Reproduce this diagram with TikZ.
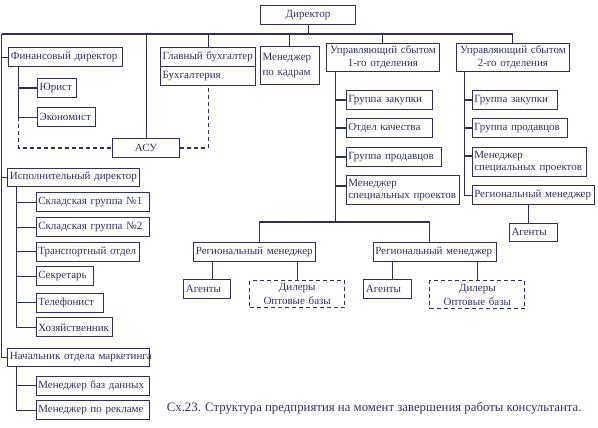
\documentclass[tikz,border=0pt]{standalone}
\usepackage{fontspec}
\setmainfont{Liberation Serif}
\usetikzlibrary{calc}
\usetikzlibrary{positioning}
\definecolor{ink}{RGB}{48,48,96}

\begin{document}
\begin{tikzpicture}
[x=1pt,y=-1pt,
every node/.style={font=\fontsize{11}{13}\selectfont,text=ink},
link/.style = {draw=ink,line width=1.1pt},
dlink/.style = {link,dash pattern=on 4pt off 3pt},
b/.style = {rectangle,draw=ink,line width=1.1pt,anchor=north west,
        inner xsep=2pt,inner ysep=0pt,minimum height=19pt,
        text width=#1,align=left},
bc/.style = {b=#1,align=center},
db/.style = {bc=#1,dash pattern=on 4pt off 3pt,font=\fontsize{11}{14}\selectfont}]
\useasboundingbox (0,0) rectangle (598,428);

\node[bc=91pt] (dir) at (260,5) {Директор};

% left column
\node[b=109.7pt] (fin) at (8.3,47.3) {Финансовый директор};
   \node[b=35pt] (jur) at (37,78) {Юрист};
   \node[b=54pt] (econ) at (37,107.3) {Экономист};
\node[bc=63pt] (asu) at (112,138) {АСУ};
\node[b=128pt,minimum height=18pt] (exec) at (7.3,167.7) {Исполнительный директор};
   \node[b=109.6pt] (skl1) at (35.7,192.3) {Складская группа №1};
   \node[b=109.6pt] (skl2) at (35.7,217.3) {Складская группа №2};
   \node[b=99.6pt] (trans) at (35.7,241.7) {Транспортный отдел};
   \node[b=53pt] (secr) at (35.7,266) {Секретарь};
   \node[b=63pt] (tel) at (35.7,292.7) {Телефонист};
   \node[b=72pt] (hoz) at (35.7,317.3) {Хозяйственник};
\node[b=138pt,minimum height=18pt] (mark) at (7.3,348) {Начальник~отдела~маркетинга};
   \node[b=109.6pt] (mbd) at (35.7,375.7) {Менеджер баз данных};
   \node[b=109.6pt] (mrek) at (35.7,400) {Менеджер по рекламе};

% top row
\node[b=91pt] (gb) at (160,47) {Главный бухгалтер};
\node[b=91pt] (buh) at (160,66) {Бухгалтерия};
\node[b=54.7pt,minimum height=38pt,font=\fontsize{11}{15}\selectfont] (kad) at (260,46) {Менеджер\\по кадрам};
\node[bc=109.3pt,minimum height=28pt] (upr1) at (325.7,43) {Управляющий сбытом\\1-го отделения};
\node[bc=109.3pt,minimum height=28pt] (upr2) at (455.7,43) {Управляющий сбытом\\2-го отделения};

% first department
\node[b=82pt] (gz1) at (345.7,90) {Группа закупки};
\node[b=82pt] (ok1) at (345.7,118) {Отдел качества};
\node[b=91pt] (gp1) at (345.7,147) {Группа продавцов};
\node[b=109.3pt,minimum height=29pt,font=\fontsize{11}{12}\selectfont] (msp1) at (345.7,175) {Менеджер\\специальных проектов};
\node[b=117.7pt] (reg1a) at (193.3,242) {Региональный менеджер};
   \node[b=43pt] (agA) at (183.3,279) {Агенты};
   \node[db=90.7pt,minimum height=27.3pt] (dlA) at (249.3,280) {Дилеры\\Оптовые базы};
\node[b=119.3pt] (reg1b) at (372.7,241.7) {Региональный менеджер};
   \node[b=43.4pt] (agB) at (363.3,279.3) {Агенты};
   \node[db=91pt,minimum height=28pt] (dlB) at (429.3,280) {Дилеры\\Оптовые базы};

% second department
\node[b=81pt] (gz2) at (471.7,90) {Группа закупки};
\node[b=91pt] (gp2) at (471.7,118) {Группа продавцов};
\node[b=110pt,minimum height=29pt,font=\fontsize{11}{12}\selectfont] (msp2) at (471.7,146.7) {Менеджер\\специальных проектов};
\node[b=118.3pt] (reg2) at (471.7,185) {Региональный менеджер};
   \node[b=43.7pt,minimum height=18pt] (ag2) at (509,222.7) {Агенты};

\node[anchor=west,font=\fontsize{12.8}{15}\selectfont] (cap) at (163.3,408)
   {Сх.23. Структура предприятия на момент завершения работы консультанта.};

% connectors
\coordinate (busL) at (1.5,34);
\draw[link] (dir.south) -- (dir.south |- busL);
\draw[link] (busL) -- (busL -| upr2.north);
\foreach \n in {asu,gb,kad,upr1,upr2}
   \draw[link] (\n.north) -- (\n.north |- busL);
\draw[link] (busL) |- (mark.west);
\foreach \n in {fin,exec}
   \draw[link] (busL |- \n.west) -- (\n.west);

\coordinate (finS) at ($(fin.south west)+(10,0)$);
\draw[link] (finS) |- (econ.west);
\draw[link] (finS |- jur.west) -- (jur.west);
\draw[dlink] (finS |- econ.west) |- (asu.west);
\draw[dlink] (asu.east) -| (buh.south);

\coordinate (exS) at ($(exec.south west)+(9,0)$);
\draw[link] (exS) |- (hoz.west);
\foreach \n in {skl1,skl2,trans,secr,tel}
   \draw[link] (exS |- \n.west) -- (\n.west);
\coordinate (mkS) at ($(mark.south west)+(9,0)$);
\draw[link] (mkS) |- (mrek.west);
\draw[link] (mkS |- mbd.west) -- (mbd.west);

\coordinate (u1S) at ($(upr1.south west)+(10,0)$);
\coordinate (sb) at (u1S |- 0,222);
\draw[link] (u1S) -- (sb);
\foreach \n in {gz1,ok1,gp1}
   \draw[link] (u1S |- \n.west) -- (\n.west);
\coordinate (m1) at ($(msp1.north west)+(0,11)$);
\draw[link] (u1S |- m1) -- (m1);
\draw[link] ($(reg1a.north)+(5,0)$) |- (sb) -| ($(reg1b.north)+(-5,0)$);
\coordinate (aA) at ($(agA.north)+(5,0)$);
\draw[link] (aA) -- (aA |- reg1a.south);
\draw[link] (dlA.north) -- (dlA.north |- reg1a.south);
\coordinate (aB) at ($(agB.north)+(5,0)$);
\draw[link] (aB) -- (aB |- reg1b.south);
\draw[link] (dlB.north) -- (dlB.north |- reg1b.south);

\coordinate (u2S) at ($(upr2.south west)+(8.5,0)$);
\draw[link] (u2S) |- (reg2.west);
\foreach \n in {gz2,gp2}
   \draw[link] (u2S |- \n.west) -- (\n.west);
\coordinate (m2) at ($(msp2.north west)+(0,9.3)$);
\draw[link] (u2S |- m2) -- (m2);
\coordinate (a2) at ($(ag2.north)+(-5,0)$);
\draw[link] (a2) -- (a2 |- reg2.south);
\end{tikzpicture}
\end{document}
